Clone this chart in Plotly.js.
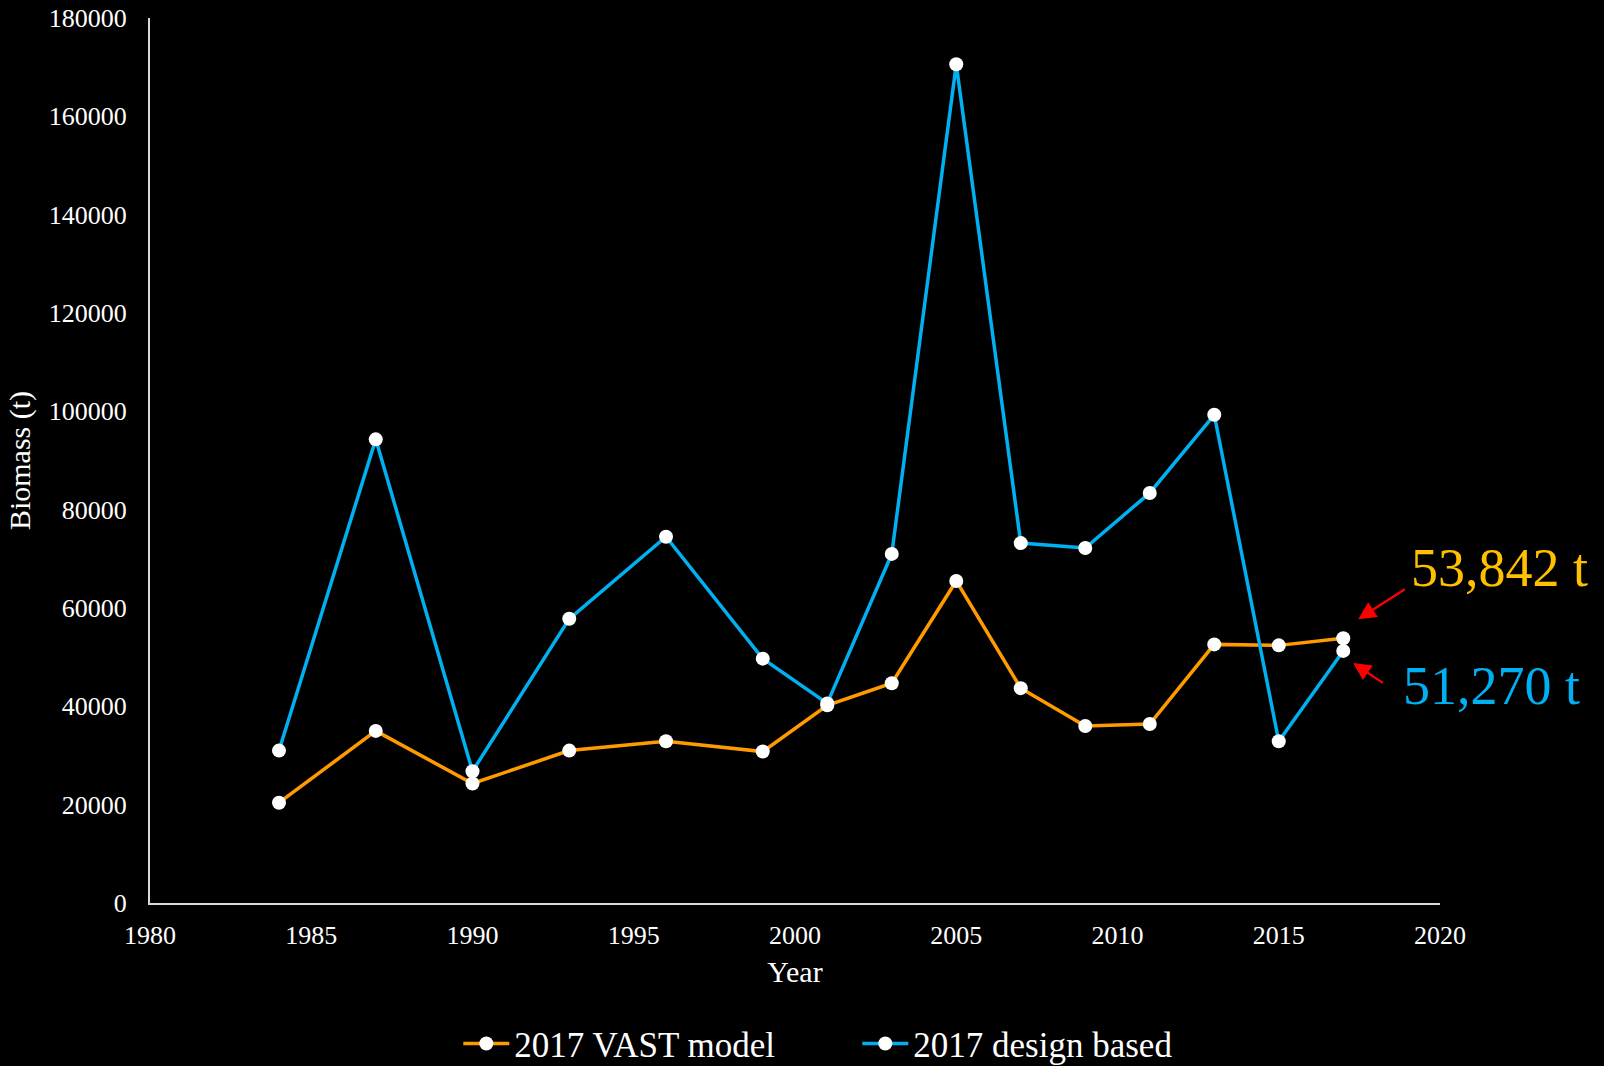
<!DOCTYPE html>
<html>
<head>
<meta charset="utf-8">
<script src="https://cdn.plot.ly/plotly-3.0.1.min.js"></script>
<style>
  html, body { margin: 0; padding: 0; background: #000; }
  #chart { width: 1604px; height: 1066px; }
</style>
</head>
<body>
<div id="chart"></div>
<script>
// Survey years
const years = [1984, 1987, 1990, 1993, 1996, 1999, 2001, 2003, 2005, 2007, 2009, 2011, 2013, 2015, 2017];

// Biomass estimates (t)
const vastModel = [20400, 35000, 24300, 31000, 32900, 30800, 40200, 44700, 65500, 43700, 36000, 36400, 52600, 52400, 53842];
const designBased = [31000, 94300, 26800, 57800, 74500, 49700, 40600, 71000, 170600, 73200, 72200, 83400, 99300, 32900, 51270];

const seriesNames = ['2017 VAST model', '2017 design based'];
const yTicks = [0, 20000, 40000, 60000, 80000, 100000, 120000, 140000, 160000, 180000];
const xTicks = [1980, 1985, 1990, 1995, 2000, 2005, 2010, 2015, 2020];

const FONT = 'Liberation Serif, Times New Roman, serif';
const ORANGE = '#FF9A00';
const BLUE = '#00B0F0';

const lastYear = years[years.length - 1];
const lastVast = vastModel[vastModel.length - 1];
const lastDesign = designBased[designBased.length - 1];
const fmt = v => v.toLocaleString('en-US') + ' t';

const traces = [
  {
    x: years, y: vastModel, name: seriesNames[0],
    type: 'scatter', mode: 'lines+markers',
    line: { color: ORANGE, width: 3.5 },
    marker: { color: '#FFFFFF', size: 14 }
  },
  {
    x: years, y: designBased, name: seriesNames[1],
    type: 'scatter', mode: 'lines+markers',
    line: { color: BLUE, width: 3.5 },
    marker: { color: '#FFFFFF', size: 14 }
  }
];

const arrowStyle = { showarrow: true, arrowhead: 2, arrowsize: 1.6, arrowwidth: 2.2, arrowcolor: '#FF0000', text: '' };

const layout = {
  width: 1604, height: 1066,
  paper_bgcolor: '#000000', plot_bgcolor: '#000000',
  font: { family: FONT, color: '#FFFFFF', size: 26 },
  margin: { l: 150, r: 164, t: 18, b: 163, autoexpand: false },
  xaxis: {
    range: [1980, 2020], tickvals: xTicks, ticktext: xTicks.map(String),
    showgrid: false, zeroline: false,
    showline: true, linecolor: '#D9D9D9', linewidth: 2,
    ticks: '', ticklabelstandoff: 8,
    tickfont: { family: FONT, size: 26, color: '#FFFFFF' },
    title: { text: 'Year', font: { family: FONT, size: 30, color: '#FFFFFF' }, standoff: 12 }
  },
  yaxis: {
    range: [0, 180000], tickvals: yTicks, ticktext: yTicks.map(String),
    showgrid: false, zeroline: false,
    showline: true, linecolor: '#D9D9D9', linewidth: 2,
    ticks: '', ticklabelstandoff: 16,
    tickfont: { family: FONT, size: 26, color: '#FFFFFF' },
    title: { text: 'Biomass (t)', font: { family: FONT, size: 30, color: '#FFFFFF' }, standoff: 9 }
  },
  showlegend: true,
  legend: {
    orientation: 'h', x: 0.239, xanchor: 'left', y: -0.159, yanchor: 'middle',
    font: { family: FONT, size: 35, color: '#FFFFFF' },
    bgcolor: 'rgba(0,0,0,0)', itemwidth: 46,
    entrywidth: 338, entrywidthmode: 'pixels'
  },
  annotations: [
    {
      x: lastYear, y: lastVast, xref: 'x', yref: 'y',
      text: fmt(lastVast), showarrow: false,
      xanchor: 'left', yanchor: 'middle', xshift: 66, yshift: 70,
      font: { family: FONT, size: 54, color: '#FFC000' }
    },
    {
      x: lastYear, y: lastDesign, xref: 'x', yref: 'y',
      text: fmt(lastDesign), showarrow: false,
      xanchor: 'left', yanchor: 'middle', xshift: 58, yshift: -35,
      font: { family: FONT, size: 54, color: BLUE }
    },
    Object.assign({ x: lastYear, y: lastVast, xref: 'x', yref: 'y', xshift: 15, yshift: 19, ax: 48, ay: -31 }, arrowStyle),
    Object.assign({ x: lastYear, y: lastDesign, xref: 'x', yref: 'y', xshift: 10, yshift: -12, ax: 31, ay: 21 }, arrowStyle)
  ]
};

Plotly.newPlot('chart', traces, layout, { displayModeBar: false, staticPlot: true });
</script>
</body>
</html>
